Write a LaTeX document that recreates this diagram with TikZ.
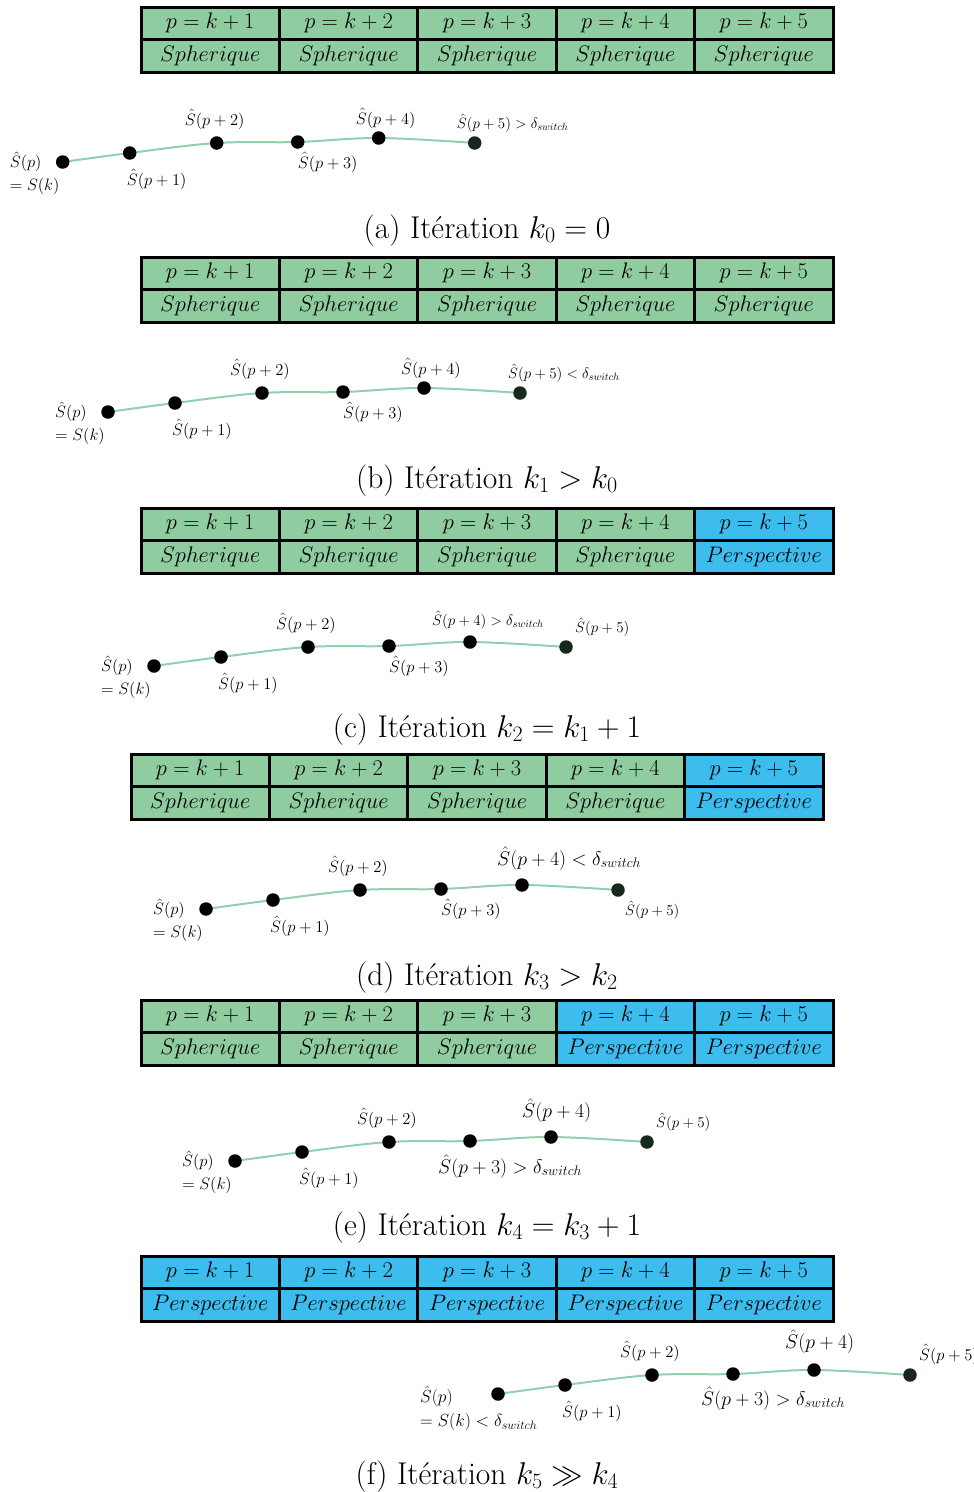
\documentclass[tikz,border=0pt]{standalone}
\usepackage{fix-cm}
\usepackage{amsmath, amssymb}
\usepackage{tikz}
\usetikzlibrary{backgrounds}

\definecolor{sphgreen}{RGB}{143,205,160}
\definecolor{perblue}{RGB}{60,189,237}
\definecolor{trajgreen}{RGB}{145,208,172}
\definecolor{lastdot}{RGB}{25,40,30}

\newcommand{\tabfont}{\fontsize{22.5}{26}\selectfont}
\newcommand{\lblfont}{\fontsize{16.5}{23}\selectfont}
\newcommand{\smallfont}{\fontsize{15}{18}\selectfont}
\newcommand{\bigfont}{\fontsize{19.8}{24}\selectfont}
\newcommand{\capfont}{\fontsize{31.5}{36}\selectfont}

\begin{document}
\begin{tikzpicture}
    [x=1pt, y=-1pt,
    cell/.style={draw=black, line width=3pt, minimum width=138.4pt,
      minimum height=32.5pt, inner sep=0pt, font=\tabfont},
    dot/.style={circle, fill=black, minimum size=13.5pt, inner sep=0pt},
    traj/.style={draw=trajgreen, line width=2pt},
    lbl/.style={font=\lblfont, inner sep=0pt, anchor=base west},
    lblsmall/.style={lbl, font=\smallfont},
    lblbig/.style={lbl, font=\bigfont},
    caption/.style={font=\capfont, inner sep=0pt, anchor=base}]

    \useasboundingbox (0,0) rectangle (974,1492);

    % Draw the tables
    \foreach \pan/\tx/\ty/\nsph in {a/141/7/5, b/141/257/5, c/141/508/4,
                                    d/131/754/4, e/141/1000/3, f/141/1256/0}
    {
      \foreach \i in {1,...,5}
      {
        \ifnum\i>\nsph \def\cellcol{perblue}\else\def\cellcol{sphgreen}\fi
        \node[cell, fill=\cellcol] (\pan-top-\i) at ({\tx+(\i-0.5)*138.4}, \ty+16.25) {$p=k+\i$};
        \node[cell, fill=\cellcol] (\pan-bot-\i) at ({\tx+(\i-0.5)*138.4}, \ty+48.75)
          {\ifnum\i>\nsph $Perspective$\else $Spherique$\fi};
      }
    }

    % Draw the trajectories
    \foreach \pan/\dx/\dy in {a/62.7/162, b/108/412, c/154/666,
                              d/206/909, e/235/1161, f/498/1394}
    {
      \foreach \j/\ox/\oy in {0/0/0, 1/67/9, 2/154/19, 3/235/20, 4/316/24}
        \node[dot] (\pan\j) at (\dx+\ox, \dy-\oy) {};
      \node[dot, fill=lastdot] (\pan5) at (\dx+412, \dy-19) {};
      \begin{pgfonlayer}{background}
        \draw[traj] plot[smooth, tension=0.6]
          coordinates {(\pan0) (\pan1) (\pan2) (\pan3) (\pan4) (\pan5)};
      \end{pgfonlayer}
    }

    % Labels shared by the panels
    \foreach \pan in {a,b,c,d,e}
      \node[lbl, anchor=north west, align=left] (\pan-l0) at ([xshift=-53pt, yshift=10pt]\pan0)
        {$\hat S(p)$\\$=S(k)$};
    \foreach \pan in {a,b,c,d,e,f}
    {
      \node[lbl] (\pan-l1) at ([xshift=-3pt, yshift=-32pt]\pan1) {$\hat S(p+1)$};
      \node[lbl] (\pan-l2) at ([xshift=-32pt, yshift=18pt]\pan2) {$\hat S(p+2)$};
    }
    \foreach \pan in {a,b,c,d}
      \node[lbl] (\pan-l3) at ([xshift=0pt, yshift=-26pt]\pan3) {$\hat S(p+3)$};
    \foreach \pan in {a,b}
      \node[lbl] (\pan-l4) at ([xshift=-23pt, yshift=14pt]\pan4) {$\hat S(p+4)$};

    % (a) and (b)
    \node[lblsmall] (a-l5) at ([xshift=-18pt, yshift=15pt]a5) {$\hat S(p+5)>\delta_{switch}$};
    \node[lblsmall] (b-l5) at ([xshift=-12pt, yshift=15pt]b5) {$\hat S(p+5)<\delta_{switch}$};

    % (c) and (d)
    \node[lblsmall] (c-l4) at ([xshift=-38pt, yshift=17pt]c4) {$\hat S(p+4)>\delta_{switch}$};
    \node[lblsmall] (c-l5) at ([xshift=9pt, yshift=15pt]c5) {$\hat S(p+5)$};
    \node[lblbig] (d-l4) at ([xshift=-25pt, yshift=20pt]d4) {$\hat S(p+4)<\delta_{switch}$};
    \node[lblsmall] (d-l5) at ([xshift=7pt, yshift=-25pt]d5) {$\hat S(p+5)$};

    % (e) and (f)
    \node[lblbig] (e-l3) at ([xshift=-32pt, yshift=-32pt]e3) {$\hat S(p+3)>\delta_{switch}$};
    \node[lblbig] (e-l4) at ([xshift=-29pt, yshift=20pt]e4) {$\hat S(p+4)$};
    \node[lblsmall] (e-l5) at ([xshift=9pt, yshift=15pt]e5) {$\hat S(p+5)$};
    \node[lbl, anchor=north west, align=left, font=\fontsize{17.5}{24}\selectfont] (f-l0)
      at ([xshift=-78pt, yshift=8pt]f0) {$\hat S(p)$\\$=S(k)<\delta_{switch}$};
    \node[lblbig] (f-l3) at ([xshift=-32pt, yshift=-31pt]f3) {$\hat S(p+3)>\delta_{switch}$};
    \node[lblbig] (f-l4) at ([xshift=-29pt, yshift=22pt]f4) {$\hat S(p+4)$};
    \node[lbl] (f-l5) at ([xshift=9pt, yshift=15pt]f5) {$\hat S(p+5)$};

    % Captions
    \node[caption] (a-cap) at (487,238) {(a) Itération $k_0=0$};
    \node[caption] (b-cap) at (487,488) {(b) Itération $k_1>k_0$};
    \node[caption] (c-cap) at (487,737) {(c) Itération $k_2=k_1+1$};
    \node[caption] (d-cap) at (487,985) {(d) Itération $k_3>k_2$};
    \node[caption] (e-cap) at (487,1235) {(e) Itération $k_4=k_3+1$};
    \node[caption] (f-cap) at (487,1484) {(f) Itération $k_5\gg k_4$};

\end{tikzpicture}
\end{document}
